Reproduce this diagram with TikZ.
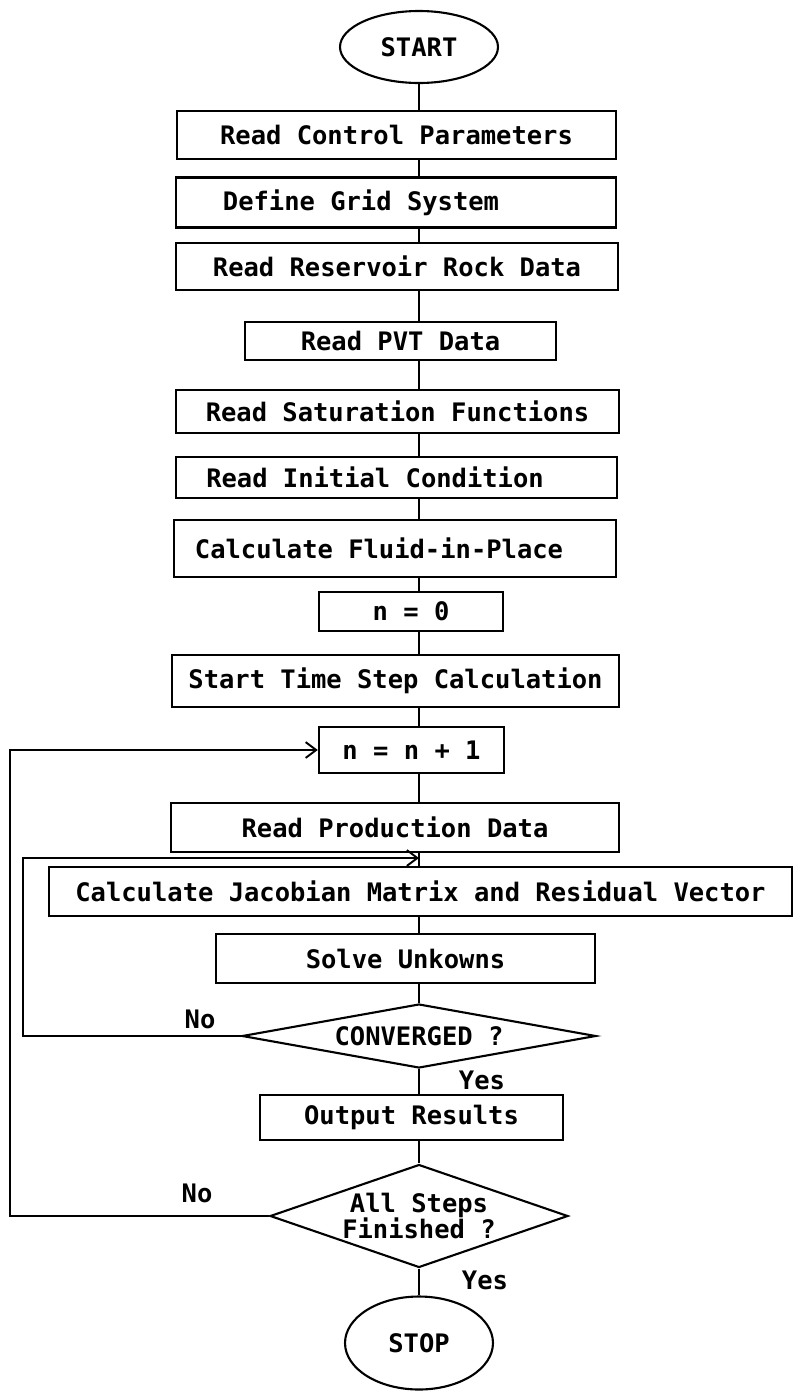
\documentclass[tikz,border=0pt]{standalone}
\usepackage{fontspec}
\setmonofont{DejaVu Sans Mono}
\usetikzlibrary{shapes.geometric,arrows.meta}

\tikzset{
  box/.style={draw, line width=1.4pt, inner sep=2pt},
  term/.style={draw, ellipse, line width=1.2pt, inner sep=0pt},
  test/.style={draw, diamond, line width=1.2pt, inner sep=0pt, align=center},
  flow/.style={line width=1.1pt},
  back/.style={line width=1.1pt, -{Straight Barb[length=6pt,width=9pt]}},
}

\begin{document}
\begin{tikzpicture}[x=0.02cm, y=-0.02cm, font=\fontsize{14.5}{15}\selectfont\ttfamily\bfseries]
  \useasboundingbox (0,0) rectangle (793,1393);

  \node[term, minimum width=3.16cm, minimum height=1.44cm] (start) at (419,47) {START};
  \node[box, minimum width=8.78cm, minimum height=0.96cm] (ctrl) at (396.5,135) {Read Control Parameters};
  \node[box, minimum width=8.8cm, minimum height=1.0cm] (grid) at (396,202.5) {Define Grid System\kern1.4cm};
  \node[box, minimum width=8.84cm, minimum height=0.94cm] (rock) at (397,266.5) {Read Reservoir Rock Data};
  \node[box, minimum width=6.22cm, minimum height=0.76cm] (pvt) at (400.5,341) {Read PVT Data};
  \node[box, minimum width=8.86cm, minimum height=0.86cm] (sat) at (397.5,411.5) {Read Saturation Functions};
  \node[box, minimum width=8.82cm, minimum height=0.82cm] (init) at (396.5,477.5) {Read Initial Condition\kern0.86cm};
  \node[box, minimum width=8.84cm, minimum height=1.14cm] (fluid) at (395,548.5) {Calculate Fluid-in-Place\kern0.64cm};
  \node[box, minimum width=3.68cm, minimum height=0.78cm] (nzero) at (411,611.5) {n = 0};
  \node[box, minimum width=8.94cm, minimum height=1.04cm] (tstep) at (395.5,681) {Start Time Step Calculation};
  \node[box, minimum width=3.7cm, minimum height=0.92cm] (ninc) at (411.5,750) {n = n + 1};
  \node[box, minimum width=8.96cm, minimum height=0.98cm] (prod) at (395,827.5) {Read Production Data};
  \node[box, minimum width=14.86cm, minimum height=0.98cm] (jac) at (420.5,891.5) {Calculate Jacobian Matrix and Residual Vector};
  \node[box, minimum width=7.58cm, minimum height=0.98cm] (solve) at (405.5,958.5) {Solve Unkowns};
  \node[test, shape aspect=5.5, minimum width=7.08cm, minimum height=1.28cm] (conv) at (419,1036) {CONVERGED ?};
  \node[box, minimum width=6.06cm, minimum height=0.9cm] (output) at (411.5,1117.5) {Output Results};
  \node[test, shape aspect=2.9, minimum width=5.96cm, minimum height=2.06cm] (all) at (419,1216) {All Steps\\Finished ?};
  \node[term, minimum width=2.96cm, minimum height=1.86cm] (stop) at (419,1343) {STOP};

  \node (noconv) at (200,1019) {No};
  \node (yesconv) at (482,1080) {Yes};
  \node (noall) at (197,1193) {No};
  \node (yesall) at (485,1280) {Yes};

  \coordinate (outerleft) at (10,0);
  \coordinate (innerleft) at (23,0);
  \coordinate (jacin) at (419,858);

  \foreach \a/\b in {start/ctrl,ctrl/grid,grid/rock,rock/pvt,pvt/sat,sat/init,init/fluid,fluid/nzero,nzero/tstep,tstep/ninc,ninc/prod,prod/jac,jac/solve,solve/conv,conv/output,output/all,all/stop}
  {
  \draw[flow] (\a.south -| start) -- (\b.north -| start);
  }
  \draw[back] (conv.west) -- (conv.west -| innerleft) |- (jacin);
  \draw[back] (all.west) -- (all.west -| outerleft) |- (ninc.west);

\end{tikzpicture}
\end{document}
